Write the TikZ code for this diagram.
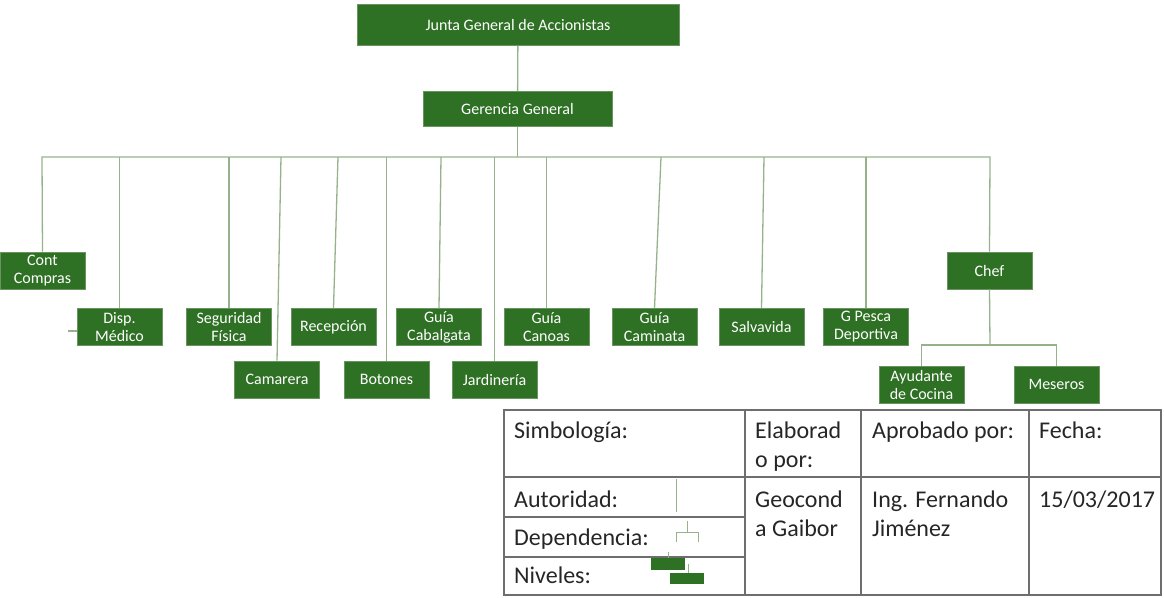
\documentclass[tikz,border=0pt]{standalone}
\usepackage{fontspec}
\setmainfont{Carlito}
\usepackage{tikz}

\definecolor{unitgreen}{RGB}{46,112,36}
\definecolor{unitedge}{RGB}{105,148,95}
\definecolor{linkgreen}{RGB}{150,178,140}
\definecolor{tablegray}{RGB}{110,110,110}

\begin{document}
\begin{tikzpicture}[
  x=1pt,
  y=-1pt,
  unit/.style={
    draw=unitedge,
    line width=0.8pt,
    fill=unitgreen,
    text=white,
    minimum width=85pt,
    minimum height=37pt,
    align=center,
    font=\fontsize{16}{18}\selectfont,
    inner sep=2pt
  },
  link/.style={
    draw=linkgreen,
    line width=1.3pt
  },
  legend/.style={
    draw=linkgreen,
    line width=1pt
  },
  cell/.style={
    anchor=base west,
    align=left,
    inner sep=0pt,
    font=\fontsize{24}{29}\selectfont,
    text=black!85
  },
  rule/.style={
    draw=tablegray,
    line width=1.6pt
  }
]
\useasboundingbox (0,0) rectangle (1164,597);

% ------------------------------------------------
% Top of the chart
% ------------------------------------------------
\node[unit, minimum width=322pt, minimum height=41pt] (junta) at (518,25)
{Junta General de Accionistas};

\node[unit, minimum width=189pt, minimum height=35pt] (gerencia) at (517.5,109)
{Gerencia General};

% ------------------------------------------------
% Departments
% ------------------------------------------------
\node[unit] (cont) at (42.5,270.5) {Cont\\Compras};
\node[unit] (chef) at (989.5,270.5) {Chef};

\node[unit] (disp) at (119.5,327) {Disp.\\Médico};
\node[unit] (seguridad) at (229,327) {Seguridad\\Física};
\node[unit] (recepcion) at (333.5,327) {Recepción};
\node[unit] (cabalgata) at (439,327) {Guía\\Cabalgata};
\node[unit] (canoas) at (546.5,327) {Guía\\Canoas};
\node[unit] (caminata) at (654.5,327) {Guía\\Caminata};
\node[unit] (salvavida) at (761.5,327) {Salvavida};
\node[unit] (pesca) at (866,327) {G Pesca\\Deportiva};

\node[unit] (camarera) at (277,379.5) {Camarera};
\node[unit] (botones) at (386.5,379.5) {Botones};
\node[unit] (jardineria) at (494.5,379.5) {Jardinería};

\node[unit] (ayudante) at (921.5,384.5) {Ayudante\\de Cocina};
\node[unit] (meseros) at (1056.5,384.5) {Meseros};

% ------------------------------------------------
% Lines of authority
% ------------------------------------------------
\coordinate (busW) at (42,157);
\coordinate (busE) at (990,157);
\coordinate (dropCam) at (281,157);
\coordinate (dropRec) at (338,157);
\coordinate (dropCab) at (441,157);
\coordinate (dropCmn) at (661,157);
\coordinate (dropSal) at (764,157);
\coordinate (kitchen) at (990,345);

\draw[link] (junta) -- (gerencia);
\draw[link] (gerencia.south) -- (gerencia.south |- busW);
\draw[link] (cont.north) -- (busW) -- (busE) -- (chef.north);

\draw[link] (disp.north) -- (disp.north |- busW);
\draw[link] (seguridad.north) -- (seguridad.north |- busW);
\draw[link] (camarera.north) -- (dropCam);
\draw[link] (recepcion.north) -- (dropRec);
\draw[link] (botones.north) -- (botones.north |- busW);
\draw[link] (cabalgata.north) -- (dropCab);
\draw[link] (jardineria.north) -- (jardineria.north |- busW);
\draw[link] (canoas.north) -- (canoas.north |- busW);
\draw[link] (caminata.north) -- (dropCmn);
\draw[link] (salvavida.north) -- (dropSal);
\draw[link] (pesca.north) -- (pesca.north |- busW);

% stray stub left of Disp. Medico
\draw[link] ([yshift=-4pt]disp.west) -- ++(-9,0);

% kitchen branch
\draw[link] (chef.south) -- (kitchen);
\draw[link] (ayudante.north) |- (kitchen) -| (meseros.north);

% ------------------------------------------------
% Legend table
% ------------------------------------------------
\draw[rule] (504,410) rectangle (1161,595);
\draw[rule] (745,410) -- (745,595);
\draw[rule] (861,410) -- (861,595);
\draw[rule] (1029,410) -- (1029,595);
\draw[rule] (504,477) -- (1161,477);
\draw[rule] (504,517) -- (745,517);
\draw[rule] (504,557) -- (745,557);

% multi-line cells sit on the baseline of their last line
\node[cell] (simbologia) at (514,438) {Simbología:};
\node[cell] (elaborado) at (755,467) {Elaborad\\o por:};
\node[cell] (aprobado) at (872,438) {Aprobado por:};
\node[cell] (fecha) at (1039,438) {Fecha:};

\node[cell] (autoridad) at (514,507) {Autoridad:};
\node[cell] (dependencia) at (514,545) {Dependencia:};
\node[cell] (niveles) at (514,583) {Niveles:};

\node[cell] (autor) at (755,536) {Geocond\\a Gaibor};
\node[cell] (aprobador) at (872,536) {Ing. Fernando\\Jiménez};
\node[cell] (dia) at (1039,507) {15/03/2017};

% symbols
\draw[legend] (676,479) -- (676,512);
\draw[legend] (687,521) -- (687,532)
  (676,542) -- (676,532) -- (698,532) -- (698,542);
\draw[legend] (668,552) -- (668,558);
\draw[legend] (688,564) -- (688,573);
\fill[unitgreen] (651,558) rectangle (685,570);
\fill[unitgreen] (670,573) rectangle (704,584);

\end{tikzpicture}
\end{document}
